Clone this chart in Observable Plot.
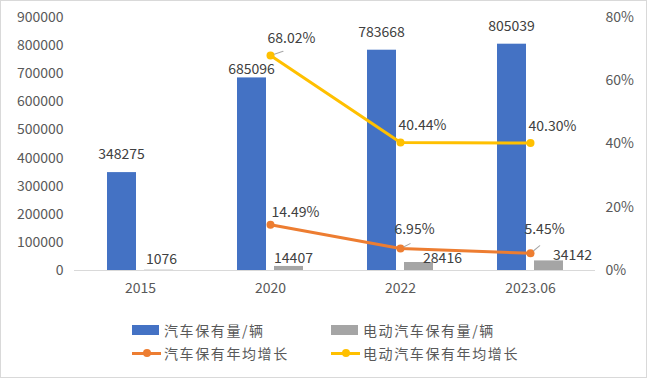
<!DOCTYPE html>
<html><head><meta charset="utf-8">
<script src="https://cdn.jsdelivr.net/npm/d3@7"></script>
<script src="https://cdn.jsdelivr.net/npm/@observablehq/plot@0.6"></script>
<style>
body{margin:0;background:#fff;}
#wrap{position:relative;width:645px;height:376px;border:1px solid #D9D9D9;background:#fff;overflow:hidden;font-family:"Noto Sans CJK SC",sans-serif;}
#chart svg{display:block;}
.lg{position:absolute;font-size:14px;color:#595959;letter-spacing:1.6px;line-height:16px;white-space:nowrap;}
.sw{position:absolute;}
</style></head>
<body>
<div id="wrap"><div id="chart"></div><div id="legend"></div></div>
<script>
const categories = ["2015", "2020", "2022", "2023.06"];
const carStock = [348275, 685096, 783668, 805039];
const evStock = [1076, 14407, 28416, 34142];
const carGrowth = [null, 14.49, 6.95, 5.45];
const evGrowth = [null, 68.02, 40.44, 40.30];
const countTicks = [0, 100000, 200000, 300000, 400000, 500000, 600000, 700000, 800000, 900000];
const pctTicks = [0, 20, 40, 60, 80];
const seriesNames = ["汽车保有量/辆", "电动汽车保有量/辆", "汽车保有年均增长", "电动汽车保有年均增长"];

const C = {blue:"#4472C4", gray:"#A5A5A5", orange:"#ED7D31", yellow:"#FFC000", text:"#404040", axis:"#595959"};
const yMax = countTicks[countTicks.length-1];
const k = yMax / pctTicks[pctTicks.length-1];

const rows = categories.map((c,i)=>({cat:c, car:carStock[i], ev:evStock[i], cg:carGrowth[i], eg:evGrowth[i]}));
const gRows = rows.filter(d=>d.cg!=null);

// label layout offsets (pixels)
const carLabelDy = [-18, -8, -18, -18];
const evLabelOff = [[21,-11],[23,-7.5],[42,-3.5],[42,-5]];
const cgLabelOff = [[25,-12],[14,-19],[14,-24]];
const egLabelOff = [[21,-17],[22,-17],[22,-17]];
const leader = [
  {cat:"2020", v:68.02*k, len:22, rot:72},
  {cat:"2022", v:6.95*k, len:18, rot:63},
  {cat:"2023.06", v:5.45*k, len:20, rot:51}
];

const font = "Noto Sans CJK SC";
const marks = [
  Plot.ruleY([0], {stroke:"#D9D9D9", strokeWidth:1}),
  Plot.barY(rows, {x:"cat", y:"car", fill:C.blue, insetLeft:32, insetRight:69}),
  Plot.barY(rows, {x:"cat", y:"ev", fill:C.gray, insetLeft:69, insetRight:32}),
  Plot.axisY({ticks:countTicks, tickSize:0, tickPadding:11, tickFormat:d=>String(d), label:null, fontSize:14, fill:C.axis}),
  Plot.axisY({anchor:"right", ticks:pctTicks.map(p=>p*k), tickFormat:d=>Math.round(d/k)+"%", tickSize:0, tickPadding:10, label:null, fontSize:14, fill:C.axis}),
  Plot.axisX({tickSize:0, tickPadding:13, label:null, fontSize:14, fill:C.axis}),
  Plot.line(gRows, {x:"cat", y:d=>d.eg*k, stroke:C.yellow, strokeWidth:3}),
  Plot.dot(gRows, {x:"cat", y:d=>d.eg*k, r:4, fill:C.yellow}),
  Plot.line(gRows, {x:"cat", y:d=>d.cg*k, stroke:C.orange, strokeWidth:3}),
  Plot.dot(gRows, {x:"cat", y:d=>d.cg*k, r:4, fill:C.orange}),
  Plot.vector(leader, {x:"cat", y:"v", length:d=>d.len, rotate:"rot", anchor:"start", stroke:"#A6A6A6", strokeWidth:1,
     shape:{draw(ctx,l){ctx.moveTo(0,-4);ctx.lineTo(0,-l);}}})
];
rows.forEach((d,i)=>{
  marks.push(Plot.text([d], {x:"cat", y:"car", text:d=>String(d.car), dx:-19, dy:carLabelDy[i], fontSize:14, fill:C.text}));
  marks.push(Plot.text([d], {x:"cat", y:"ev", text:d=>String(d.ev), dx:evLabelOff[i][0], dy:evLabelOff[i][1], fontSize:14, fill:C.text}));
});
gRows.forEach((d,i)=>{
  marks.push(Plot.text([d], {x:"cat", y:d=>d.cg*k, text:d=>d.cg.toFixed(2)+"%", dx:cgLabelOff[i][0], dy:cgLabelOff[i][1], fontSize:14, fill:C.text}));
  marks.push(Plot.text([d], {x:"cat", y:d=>d.eg*k, text:d=>d.eg.toFixed(2)+"%", dx:egLabelOff[i][0], dy:egLabelOff[i][1], fontSize:14, fill:C.text}));
});

const chart = Plot.plot({
  width:645, height:304,
  marginLeft:73, marginRight:51, marginTop:16, marginBottom:35,
  style:{fontFamily:font, fontSize:"14px", background:"#fff"},
  x:{domain:categories, padding:0},
  y:{domain:[0,yMax]},
  marks
});
document.getElementById("chart").appendChild(chart);

// legend
const lg = document.getElementById("legend");
const items = [
  {name:seriesNames[0], color:C.blue, type:"bar", x:131, y:329},
  {name:seriesNames[1], color:C.gray, type:"bar", x:330, y:329},
  {name:seriesNames[2], color:C.orange, type:"line", x:131, y:352},
  {name:seriesNames[3], color:C.yellow, type:"line", x:330, y:352}
];
items.forEach(it=>{
  if(it.type==="bar"){
    const s=document.createElement("div");s.className="sw";
    Object.assign(s.style,{left:it.x+"px",top:(it.y-5)+"px",width:"27px",height:"10px",background:it.color});
    lg.appendChild(s);
  } else {
    const s=document.createElement("div");s.className="sw";
    Object.assign(s.style,{left:it.x+"px",top:(it.y-1.5)+"px",width:"29px",height:"3px",background:it.color});
    lg.appendChild(s);
    const d=document.createElement("div");d.className="sw";
    Object.assign(s.style,{});
    Object.assign(d.style,{left:(it.x+10.5)+"px",top:(it.y-4)+"px",width:"8px",height:"8px",borderRadius:"50%",background:it.color});
    lg.appendChild(d);
  }
  const t=document.createElement("div");t.className="lg";t.textContent=it.name;
  Object.assign(t.style,{left:(it.x+32)+"px",top:(it.y-8)+"px"});
  lg.appendChild(t);
});
</script>
</body></html>
